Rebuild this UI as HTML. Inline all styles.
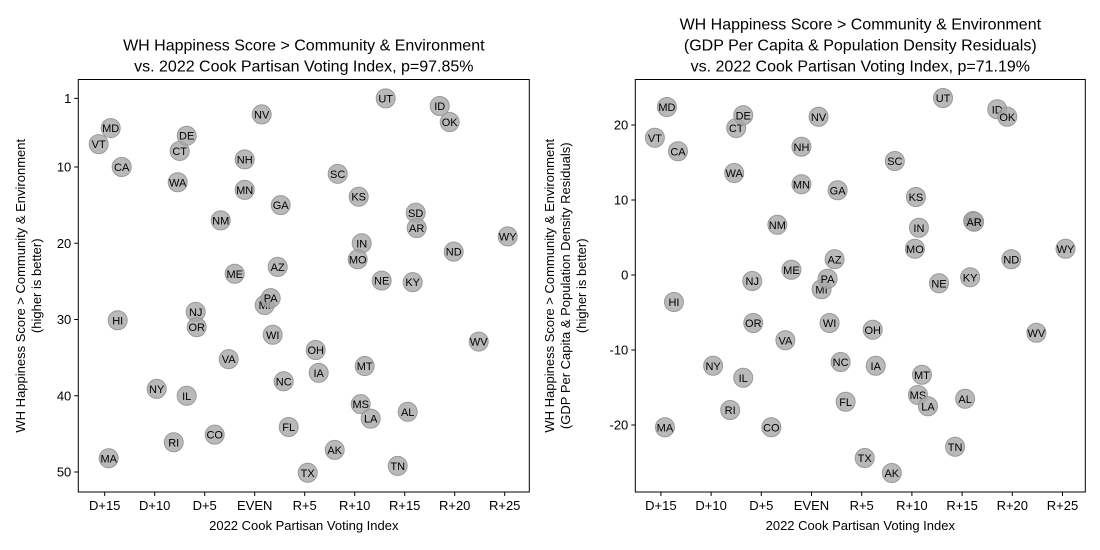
<!DOCTYPE html>
<html><head><meta charset="utf-8"><style>
body{margin:0;background:#fff;}
svg{display:block;font-family:"Liberation Sans","DejaVu Sans",sans-serif;}
</style></head><body>
<svg id="c" width="1100" height="550" xmlns="http://www.w3.org/2000/svg"></svg>
<script>
const states=["VT","MD","CA","HI","MA","NY","RI","IL","CT","DE","WA","NJ","OR","CO","NM","VA","ME","NH","MN","NV","MI","PA","WI","AZ","GA","NC","FL","OH","IA","TX","SC","AK","KS","IN","MO","MS","MT","LA","NE","UT","TN","AL","KY","SD","AR","ID","OK","ND","WV","WY"];
const pvi=[-15.6,-14.4,-13.3,-13.7,-14.6,-9.8,-8.1,-6.8,-7.5,-6.8,-7.7,-5.9,-5.8,-4.0,-3.4,-2.6,-2.0,-1.0,-1.0,0.7,1.0,1.6,1.8,2.3,2.6,2.9,3.4,6.1,6.4,5.3,8.3,8.0,10.4,10.7,10.3,10.6,11.0,11.6,12.7,13.1,14.3,15.3,15.8,16.1,16.2,18.5,19.5,19.9,22.4,25.3];
const rankScore=[7,4.9,10,30.1,48.2,39.1,46.1,40,7.9,5.9,12,29,31,45.1,17,35.2,24,9,13,3.1,28.1,27.2,32,23.1,15,38.1,44.1,34,37,50.1,10.9,47.1,13.9,20,22.1,41.1,36.1,43,24.9,1,49.2,42.1,25.1,16,18,2,4.1,21.1,32.9,19.1];
const residual=[18.3,22.4,16.5,-3.6,-20.3,-12.1,-18,-13.7,19.6,21.3,13.6,-0.8,-6.4,-20.3,6.7,-8.7,0.7,17.1,12.1,21.1,-1.9,-0.5,-6.4,2.1,11.3,-11.6,-16.9,-7.3,-12.1,-24.4,15.2,-26.4,10.4,6.3,3.5,-16,-13.3,-17.5,-1.1,23.6,-22.9,-16.5,-0.3,7.2,7.1,22.1,21.1,2.1,-7.7,3.5];
const xTickVals=[-15,-10,-5,0,5,10,15,20,25];
const xTickLabels=["D+15","D+10","D+5","EVEN","R+5","R+10","R+15","R+20","R+25"];
const yTicksL=[1,10,20,30,40,50];
const yTicksR=[20,10,0,-10,-20];

const svg=document.getElementById('c');
const NS="http://www.w3.org/2000/svg";
function mk(t,a,txt){const e=document.createElementNS(NS,t);for(const k in a)e.setAttribute(k,a[k]);if(txt!==undefined)e.textContent=txt;svg.appendChild(e);return e;}

function panel(p){
  const {x0,x1,y0,y1,xs,ys,yvals,yticks,titles,ylab,pfx}=p;
  const fr=mk('rect',{x:x0,y:y0,width:x1-x0,height:y1-y0,fill:'none',stroke:'#000','stroke-width':1});
  
  
  xTickVals.forEach((v,i)=>{
    const X=xs(v);
    const l=mk('line',{x1:X,x2:X,y1:y1,y2:y1+4,stroke:'#000'});
    
    
    const t=mk('text',{x:X,y:y1+18,'font-size':13,'text-anchor':'middle',fill:'#000'},xTickLabels[i]);
    
    
  });
  yticks.forEach(v=>{
    const Y=ys(v);
    const l=mk('line',{x1:x0-4,x2:x0,y1:Y,y2:Y,stroke:'#000'});
    
    
    const t=mk('text',{x:x0-7,y:Y+4.5,'font-size':13,'text-anchor':'end',fill:'#000'},String(v));
    
    
  });
  const xl=mk('text',{x:(x0+x1)/2,y:y1+38,'font-size':13,'text-anchor':'middle'},'2022 Cook Partisan Voting Index');
  
  
  const cy=(y0+y1)/2;
  ylab.forEach((s,i)=>{
    const lx=p.ylx+i*16;
    const t=mk('text',{x:lx,y:cy,'font-size':13,'text-anchor':'middle',transform:`rotate(-90 ${lx} ${cy})`},s);
    
    
  });
  titles.forEach((s,i)=>{
    const t=mk('text',{x:(x0+x1)/2,y:y0-8-(titles.length-1-i)*21,'font-size':16,'text-anchor':'middle'},s);
    
    
  });
  states.forEach((s,i)=>{
    const X=xs(pvi[i]),Y=ys(yvals[i]);
    const c=mk('circle',{cx:X,cy:Y,r:9.5,fill:'#a8a8a8','fill-opacity':0.8,stroke:'#999','stroke-width':1});
    
    
    const t=mk('text',{x:X,y:Y+4,'font-size':11,'text-anchor':'middle',fill:'#000'},s);
    
    
  });
}
const L={x0:78.3,x1:529.3,y0:79.5,y1:492};
panel(Object.assign({},L,{pfx:'left',
  xs:v=>254.7+10*v,
  ys:v=>167+(v-10)*7.625,
  yvals:rankScore,yticks:yTicksL,ylx:25,
  titles:["WH Happiness Score > Community & Environment","vs. 2022 Cook Partisan Voting Index, p=97.85%"],
  ylab:["WH Happiness Score > Community & Environment","(higher is better)"]}));
const R={x0:635.3,x1:1085.3,y0:79.5,y1:492};
panel(Object.assign({},R,{pfx:'right',
  xs:v=>811.5+10.04*v,
  ys:v=>275-v*7.5,
  yvals:residual,yticks:yTicksR,ylx:554,
  titles:["WH Happiness Score > Community & Environment","(GDP Per Capita & Population Density Residuals)","vs. 2022 Cook Partisan Voting Index, p=71.19%"],
  ylab:["WH Happiness Score > Community & Environment","(GDP Per Capita & Population Density Residuals)","(higher is better)"]}));
</script>
</body></html>
